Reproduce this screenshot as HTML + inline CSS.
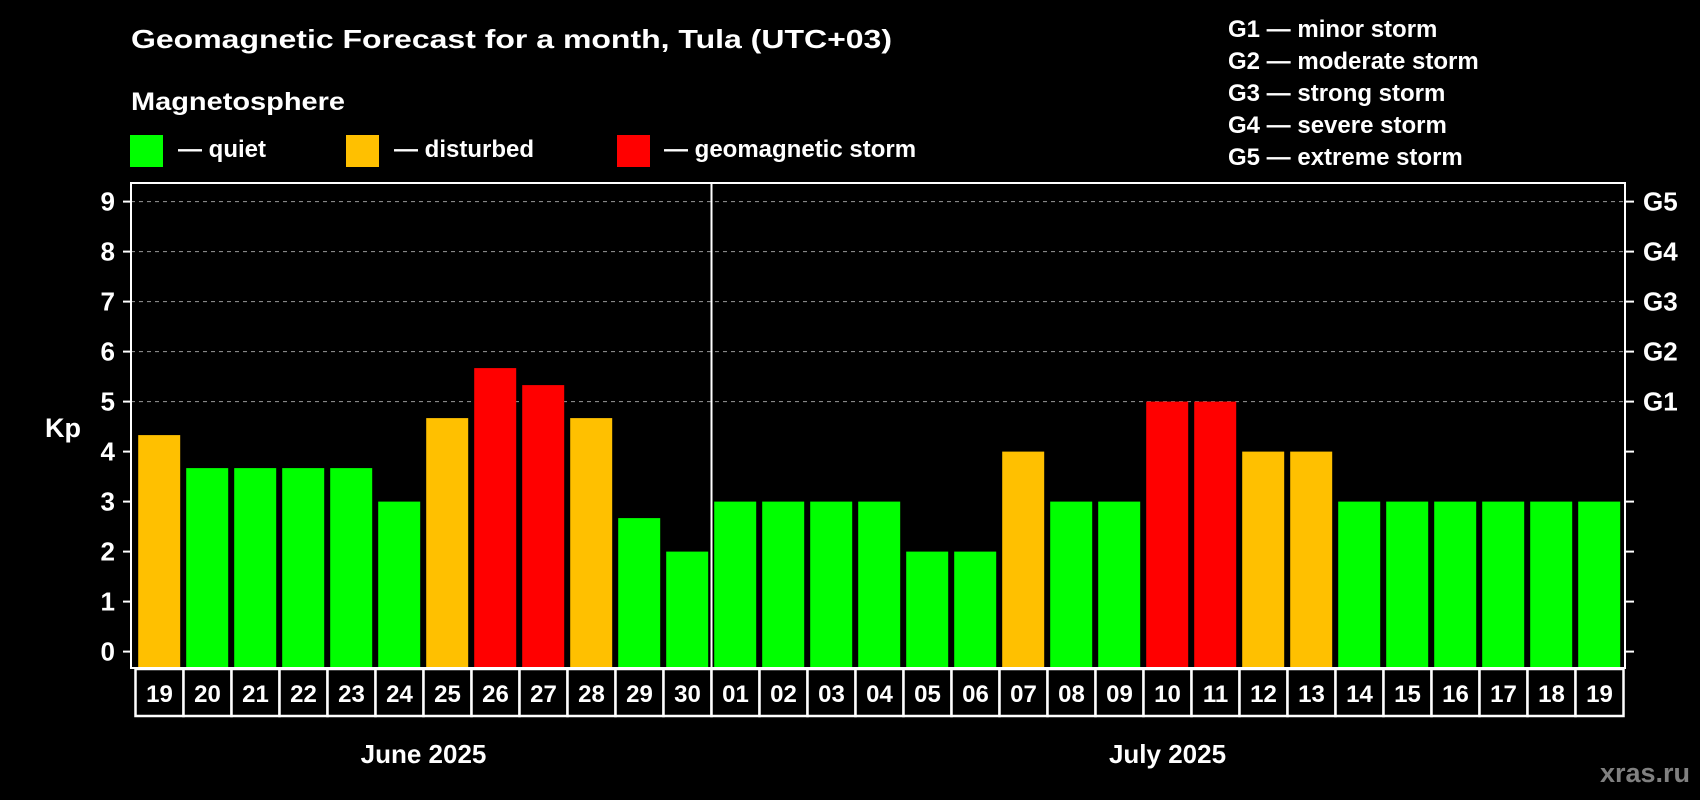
<!DOCTYPE html>
<html><head><meta charset="utf-8"><style>
html,body{margin:0;padding:0;background:#000;}
svg{display:block;font-family:"Liberation Sans",Arial,sans-serif;font-weight:bold;}
</style></head><body>
<svg id="chart" width="1700" height="800" viewBox="0 0 1700 800">
<rect x="0" y="0" width="1700" height="800" fill="#000"/>
<text x="131" y="48" fill="#fff" font-size="26" textLength="761" lengthAdjust="spacingAndGlyphs">Geomagnetic Forecast for a month, Tula (UTC+03)</text>
<text x="131" y="110" fill="#fff" font-size="25" textLength="214" lengthAdjust="spacingAndGlyphs">Magnetosphere</text>
<g>
<rect x="130" y="135" width="33" height="32" fill="#00ff00"/>
<text x="178" y="157" fill="#fff" font-size="24">— quiet</text></g>
<g>
<rect x="346" y="135" width="33" height="32" fill="#ffc000"/>
<text x="394" y="157" fill="#fff" font-size="24">— disturbed</text></g>
<g>
<rect x="617" y="135" width="33" height="32" fill="#ff0000"/>
<text x="664" y="157" fill="#fff" font-size="24">— geomagnetic storm</text></g>
<g fill="#fff" font-size="24">
<text x="1228" y="37">G1 — minor storm</text>
<text x="1228" y="69">G2 — moderate storm</text>
<text x="1228" y="101">G3 — strong storm</text>
<text x="1228" y="133">G4 — severe storm</text>
<text x="1228" y="165">G5 — extreme storm</text>
</g>
<text x="63" y="437" fill="#fff" font-size="27" text-anchor="middle">Kp</text>
<text x="1690" y="782" fill="#808080" font-size="27" text-anchor="end">xras.ru</text>
<g id="plot"></g>
</svg>
<script>
const days = ["19","20","21","22","23","24","25","26","27","28","29","30","01","02","03","04","05","06","07","08","09","10","11","12","13","14","15","16","17","18","19"];
const kpValues = [4.33,3.67,3.67,3.67,3.67,3,4.67,5.67,5.33,4.67,2.67,2,3,3,3,3,2,2,4,3,3,5,5,4,4,3,3,3,3,3,3];
const yTicks = [0,1,2,3,4,5,6,7,8,9];
const gLevels = [5,6,7,8,9];
const gLabels = ["G1","G2","G3","G4","G5"];
const months = ["June 2025","July 2025"];
const monthStarts = [0,12];

const NS="http://www.w3.org/2000/svg";
const plot=document.getElementById('plot');
const frameL=131, frameR=1625, frameT=183, frameB=668;
const slot0=135.5, slotW=48;
function xPos(i){return slot0+i*slotW;}
function yPos(v){return 651.6-v*50.0;}
function mk(tag,attrs,parent){const e=document.createElementNS(NS,tag);for(const k in attrs)e.setAttribute(k,attrs[k]);(parent||plot).appendChild(e);return e;}
function colorFor(v){return v>=5?"#ff0000":(v>=4?"#ffc000":"#00ff00");}

// gridlines
gLevels.forEach(v=>{
  const l=mk('line',{x1:frameL,x2:frameR,y1:yPos(v),y2:yPos(v),stroke:"#999","stroke-width":1,"stroke-dasharray":"4,4"});
  
  
});
// bars
kpValues.forEach((v,i)=>{
  const r=mk('rect',{x:xPos(i)+2.7,y:yPos(v),width:42,height:yPos(0)-yPos(v)+16,fill:colorFor(v)});
  
  
});
// frame
const fr=mk('rect',{x:frameL,y:frameT,width:frameR-frameL,height:frameB-frameT,fill:"none",stroke:"#fff","stroke-width":2});


// month divider
monthStarts.slice(1).forEach(s=>{
  const d=mk('line',{x1:xPos(s),x2:xPos(s),y1:frameT,y2:frameB,stroke:"#fff","stroke-width":2});
  
  
});
// y ticks & labels
yTicks.forEach(v=>{
  const t=mk('line',{x1:123,x2:frameL,y1:yPos(v),y2:yPos(v),stroke:"#fff","stroke-width":2});
  
  
  const t2=mk('line',{x1:frameR,x2:frameR+9,y1:yPos(v),y2:yPos(v),stroke:"#fff","stroke-width":2});
  
  
  const tx=mk('text',{x:115,y:yPos(v)+9,fill:"#fff","font-size":26,"text-anchor":"end"});
  tx.textContent=v;
  
  
});
gLevels.forEach((v,i)=>{
  const tx=mk('text',{x:1643,y:yPos(v)+9,fill:"#fff","font-size":26});
  tx.textContent=gLabels[i];
  
  
});
// date boxes
days.forEach((d,i)=>{
  const b=mk('rect',{x:xPos(i),y:669,width:slotW,height:47,fill:"#000",stroke:"#fff","stroke-width":2.5});
  
  
  const tx=mk('text',{x:xPos(i)+slotW/2,y:702,fill:"#fff","font-size":24,"text-anchor":"middle"});
  tx.textContent=d;
  
  
});
// month labels
months.forEach((m,k)=>{
  const s=monthStarts[k], e=(k+1<monthStarts.length)?monthStarts[k+1]:days.length;
  const tx=mk('text',{x:(xPos(s)+xPos(e))/2,y:763,fill:"#fff","font-size":26,"text-anchor":"middle"});
  tx.textContent=m;
  
  
});
</script>
</body></html>
